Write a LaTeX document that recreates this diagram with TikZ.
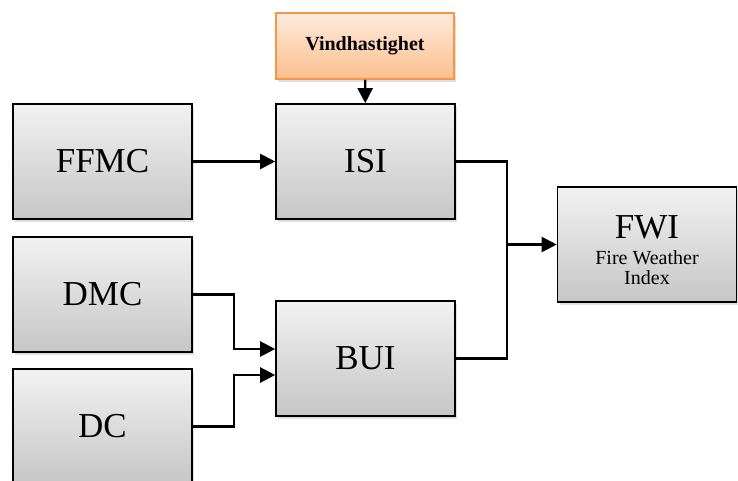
\documentclass[tikz,border=0pt]{standalone}
\usepackage{fontspec}
\setmainfont{Liberation Serif}
\usetikzlibrary{positioning,calc,arrows.meta,shadows}
\definecolor{boxtop}{HTML}{F2F2F2}
\definecolor{boxbot}{HTML}{C6C6C6}
\definecolor{windtop}{HTML}{FEEBDD}
\definecolor{windbot}{HTML}{FBBF8D}
\definecolor{windline}{HTML}{F79646}
\newcommand{\smalltxt}{\fontsize{20}{21}\selectfont}
\newcommand{\bigtxt}{\fontsize{35}{38}\selectfont}
\tikzset{
	indexbox/.style={draw=black, line width=1.6pt, top color=boxtop, bottom color=boxbot,
		minimum width=179pt, minimum height=115pt, inner sep=0pt,
		drop shadow={shadow xshift=2pt, shadow yshift=-3pt, opacity=.25},
		font=\bigtxt},
	windbox/.style={draw=windline, line width=1.6pt, top color=windtop, bottom color=windbot,
		minimum width=178pt, minimum height=66pt, inner sep=0pt,
		drop shadow={shadow xshift=2pt, shadow yshift=-3pt, opacity=.25},
		font=\smalltxt\bfseries},
	flow/.style={line width=2.2pt, -{Triangle[length=15pt,width=15pt]}},
	wire/.style={line width=2.2pt}
}
\begin{document}
\begin{tikzpicture}[x=1pt,y=1pt]
	\useasboundingbox (0,0) rectangle (738,480);
	%% the input and output boxes
	\node[windbox] (wind) at (365,434) {Vindhastighet};
	\node[indexbox] (ffmc) at (102.5,318.5) {FFMC};
	\node[indexbox] (isi) at (365.5,318.5) {ISI};
	\node[indexbox] (dmc) at (102.5,185.5) {DMC};
	\node[indexbox] (bui) at (365.5,121.5) {BUI};
	\node[indexbox] (dc) at (102.5,53.5) {DC};
	%% the strut pushes the three lines a bit lower in the box
	\node[indexbox, align=center, font=\smalltxt] (fwi) at (647,235.5)
		{{\bigtxt\rule{0pt}{35pt}FWI}\\[5pt]Fire Weather\\[-1pt]Index};
	%% helper points for the bent wires
	\coordinate (join) at (507,235.5);
	\coordinate (bentop) at (234,131);
	\coordinate (bentbot) at (234,105);
	%% connectors
	\draw[flow] (wind) -- (isi);
	\draw[flow] (ffmc) -- (isi);
	\draw[wire] (isi.east) -| (join);
	\draw[wire] (bui.east) -| (join);
	\draw[flow] (join) -- (fwi.west);
	\draw[flow] (dmc.east) -| (bentop) -- (bentop -| bui.west);
	\draw[flow] (dc.east) -| (bentbot) -- (bentbot -| bui.west);
\end{tikzpicture}
\end{document}
